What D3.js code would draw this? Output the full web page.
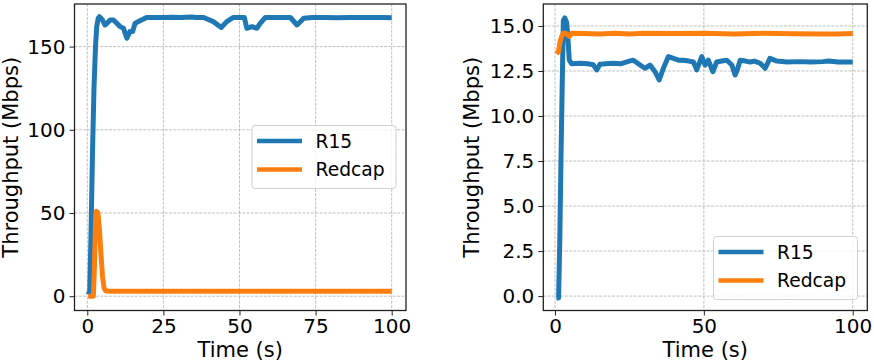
<!DOCTYPE html>
<html>
<head>
<meta charset="utf-8">
<script src="https://cdn.jsdelivr.net/npm/d3@7"></script>
<style>
  body { margin: 0; background: #fff; }
  text { font-family: "DejaVu Sans", sans-serif; fill: #000; }
</style>
</head>
<body>
<svg id="chart" width="874" height="362"></svg>
<script>
// series: [time (s), throughput (Mbps)]
const seriesNames = ["R15", "Redcap"];
const seriesColors = ["#1f77b4", "#ff7f0e"];

const leftR15 = [[0.3,1],[0.8,3],[1.2,35],[1.7,85],[2.2,125],[2.7,150],[3.1,162],[3.6,167],[4,168],[5,166],[5.8,163],
  [6.5,164],[7.5,166],[8.6,166],[9.7,164],[10.8,162],[11.9,161],[13,155],[14,159],[14.9,159],[15.7,164],[17.3,165.5],
  [19.5,167.5],[22,167.5],[25,167.5],[28,167.7],[31,167.5],[34,167.8],[36,167.5],[38.2,167.5],[41.4,165],[44,161.5],
  [45.8,165],[48,167.5],[51.6,167.5],[52.4,161],[54.1,162],[55.7,161],[56.8,164],[58.5,167.5],[62,167.5],[66.7,167.5],
  [68.9,163],[71.1,167],[74,167.5],[78,167.5],[82,167.3],[86,167.5],[90,167.5],[94,167.5],[97,167.5],[100,167.3]];
const leftRedcap = [[0.3,0],[1,0],[2,0],[2.3,15],[2.7,45],[3,51],[3.5,50],[4,40],[4.5,25],[5,12],[5.5,5],[6,3.3],
  [7,3],[20,3],[40,3],[60,3],[80,3],[100,3]];

const rightR15 = [[0.5,-0.1],[1.2,-0.1],[1.6,3],[2,7.5],[2.4,11.5],[2.8,15.3],[3.3,15.45],[3.9,15.2],[4.3,14.4],
  [4.8,13.1],[5.6,12.9],[8.4,12.93],[11,12.9],[12.8,12.85],[14,12.56],[15.1,12.87],[17,12.9],[19.6,12.93],[22,12.9],
  [25.2,13.06],[26.3,13.1],[28.6,12.83],[30.2,12.65],[31.9,12.83],[33.6,12.46],[35,12.0],[36.4,12.65],[38.1,13.3],
  [39.8,13.2],[41.5,13.1],[43.1,13.1],[45,13.05],[46.5,13.0],[47.6,12.56],[49.3,13.3],[50.4,12.83],[51.5,13.1],
  [53,12.46],[54.3,13.0],[56,13.05],[57.7,13.1],[59.4,12.83],[60.5,12.28],[61.3,12.6],[62.2,13.1],[64,13.05],
  [65.5,13.0],[67,13.05],[68.9,12.93],[70.6,12.65],[72.2,13.2],[74.5,13.05],[78,13.0],[82,13.02],[86,13.0],
  [90,13.02],[92,13.05],[95,13.0],[98,13.0],[100,13.0]];
const rightRedcap = [[0.5,13.45],[1.2,13.6],[1.7,14.13],[2.3,14.45],[2.8,14.6],[3.5,14.6],[4.8,14.42],[5.6,14.6],
  [10,14.58],[15,14.55],[20,14.6],[25,14.55],[30,14.6],[40,14.58],[50,14.6],[60,14.56],[70,14.6],[80,14.57],
  [90,14.55],[95,14.55],[100,14.58]];

const leftXTicks = [0, 25, 50, 75, 100];
const leftYTicks = [0, 50, 100, 150];
const rightXTicks = [0, 50, 100];
const rightYTicks = [0, 2.5, 5, 7.5, 10, 12.5, 15];

const svg = d3.select("#chart");

function drawPanel(cfg) {
  let g = svg.append("g");
  let x = d3.scaleLinear().domain(cfg.xDomain).range([cfg.left, cfg.right]);
  let y = d3.scaleLinear().domain(cfg.yDomain).range([cfg.bottom, cfg.top]);

  // grid
  g.append("g").selectAll("line").data(cfg.xTicks).join("line")
    .attr("x1", d => x(d)).attr("x2", d => x(d))
    .attr("y1", cfg.top).attr("y2", cfg.bottom);
  g.append("g").selectAll("line").data(cfg.yTicks).join("line")
    .attr("x1", cfg.left).attr("x2", cfg.right)
    .attr("y1", d => y(d)).attr("y2", d => y(d));
  g.selectAll("g line").attr("stroke", "#b0b0b0").attr("stroke-width", 0.8)
    .attr("stroke-dasharray", "3,1.3");

  let clipId = "clip" + cfg.id;
  svg.append("clipPath").attr("id", clipId).append("rect")
    .attr("x", cfg.left).attr("y", cfg.top)
    .attr("width", cfg.right - cfg.left).attr("height", cfg.bottom - cfg.top);

  let line = d3.line().x(d => x(d[0])).y(d => y(d[1]));
  cfg.series.forEach((s, i) => {
    g.append("path").datum(s)
      .attr("clip-path", "url(#" + clipId + ")")
      .attr("fill", "none")
      .attr("stroke", seriesColors[i])
      .attr("stroke-width", 5)
      .attr("stroke-linejoin", "round")
      .attr("d", line);
  });

  // axes
  let xAxis = g.append("g").attr("transform", "translate(0," + cfg.bottom + ")")
    .call(d3.axisBottom(x).tickValues(cfg.xTicks).tickSize(5).tickPadding(3)
      .tickFormat(d3.format("d")));
  let yAxis = g.append("g").attr("transform", "translate(" + cfg.left + ",0)")
    .call(d3.axisLeft(y).tickValues(cfg.yTicks).tickSize(5).tickPadding(4)
      .tickFormat(cfg.yFormat));
  [xAxis, yAxis].forEach(a => {
    a.select(".domain").remove();
    a.selectAll(".tick line").attr("stroke", "#222").attr("stroke-width", 1);
    a.selectAll("text").style("font-size", "20px").attr("fill", "#000")
      .style("font-family", "DejaVu Sans");
  });

  g.append("rect")
    .attr("x", cfg.left).attr("y", cfg.top)
    .attr("width", cfg.right - cfg.left).attr("height", cfg.bottom - cfg.top)
    .attr("fill", "none").attr("stroke", "#222").attr("stroke-width", 1.3);

  // axis titles
  g.append("text")
    .attr("x", (cfg.left + cfg.right) / 2).attr("y", 357)
    .attr("text-anchor", "middle").style("font-size", "21px")
    .text("Time (s)");
  g.append("text")
    .attr("transform", "translate(" + cfg.yLabelX + "," + (cfg.top + cfg.bottom) / 2 + ") rotate(-90)")
    .attr("text-anchor", "middle").style("font-size", "21px")
    .text("Throughput (Mbps)");

  // legend
  let lg = g.append("g").attr("transform", "translate(" + cfg.legend[0] + "," + cfg.legend[1] + ")");
  lg.append("rect").attr("width", 144).attr("height", 63).attr("rx", 3)
    .attr("fill", "#fff").attr("fill-opacity", 0.8)
    .attr("stroke", "#d0d0d0").attr("stroke-width", 1);
  seriesNames.forEach((n, i) => {
    let yy = 15.5 + i * 28.6;
    lg.append("line").attr("x1", 5).attr("x2", 50).attr("y1", yy).attr("y2", yy)
      .attr("stroke", seriesColors[i]).attr("stroke-width", 4.5);
    lg.append("text").attr("x", 63.5).attr("y", yy).attr("dy", "0.36em")
      .style("font-size", "18.7px").text(n);
  });
}

drawPanel({
  id: "L", left: 74.5, right: 406, top: 4, bottom: 310.5,
  xDomain: [-4.2, 104.7], yDomain: [-8.6, 175.6],
  xTicks: leftXTicks, yTicks: leftYTicks, yFormat: d3.format("d"),
  series: [leftR15, leftRedcap], yLabelX: 17.5, legend: [252, 125.5]
});

drawPanel({
  id: "R", left: 543.3, right: 867.3, top: 4, bottom: 310.5,
  xDomain: [-3.93, 104.9], yDomain: [-0.8, 16.22],
  xTicks: rightXTicks, yTicks: rightYTicks, yFormat: d3.format(".1f"),
  series: [rightR15, rightRedcap], yLabelX: 478.5, legend: [713.5, 236.5]
});
</script>
</body>
</html>
